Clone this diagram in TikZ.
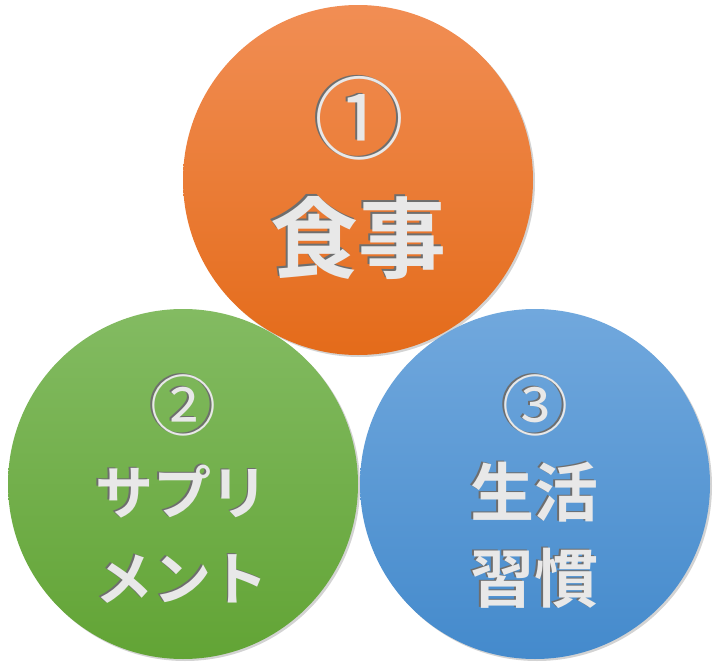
\documentclass[tikz,border=0pt]{standalone}
\usepackage{fontspec}
\usetikzlibrary{shadows}
\newfontfamily\jpfont{Noto Sans CJK JP}[BoldFont={Noto Sans CJK JP Bold}]
\definecolor{orangetop}{RGB}{241,142,84}
\definecolor{orangebot}{RGB}{228,107,26}
\definecolor{greentop}{RGB}{131,187,98}
\definecolor{greenbot}{RGB}{98,164,53}
\definecolor{bluetop}{RGB}{113,168,221}
\definecolor{bluebot}{RGB}{68,138,204}
\definecolor{lettergray}{RGB}{232,232,232}
\definecolor{edgegray}{RGB}{110,110,110}
\newcommand\engrave[1]{\leavevmode\rlap{\kern-1.3pt\raisebox{1.3pt}{\color{edgegray}#1}}{\color{lettergray}#1}}

\tikzset{
  ball/.style={circle, minimum size=350pt, inner sep=0pt,
    drop shadow={shadow xshift=2pt, shadow yshift=-2pt, opacity=0.35}},
  bignum/.style={font=\jpfont\fontsize{90}{119}\selectfont, align=center},
  smallnum/.style={font=\jpfont\fontsize{66}{86}\selectfont, align=center},
  kana/.style={font=\jpfont\bfseries\fontsize{58}{86}\selectfont, align=center}
}

\begin{document}
\begin{tikzpicture}[x=1pt, y=-1pt]
    \useasboundingbox (0,0) rectangle (721,672);

    % the three circles
    \node [ball, top color=orangetop, bottom color=orangebot] (food) at (358,180) {};
    \node [ball, top color=greentop, bottom color=greenbot] (supp) at (183,484) {};
    \node [ball, top color=bluetop, bottom color=bluebot] (life) at (535,484) {};

    % labels
    \node [bignum] (food-num) at (359,118) {\engrave{①}};
    \node [bignum, font=\jpfont\bfseries\fontsize{88}{119}\selectfont] (food-txt) at (358,237) {\engrave{食事}};

    \node [smallnum] (supp-num) at (183,405) {\engrave{②}};
    \node [kana] (supp-txt) at (182,534) {\engrave{サプリ}\\\engrave{メント}};

    \node [smallnum] (life-num) at (535,405) {\engrave{③}};
    \node [smallnum, font=\jpfont\bfseries\fontsize{64}{86}\selectfont] (life-txt) at (534,535) {\engrave{生活}\\\engrave{習慣}};
  \end{tikzpicture}
\end{document}
